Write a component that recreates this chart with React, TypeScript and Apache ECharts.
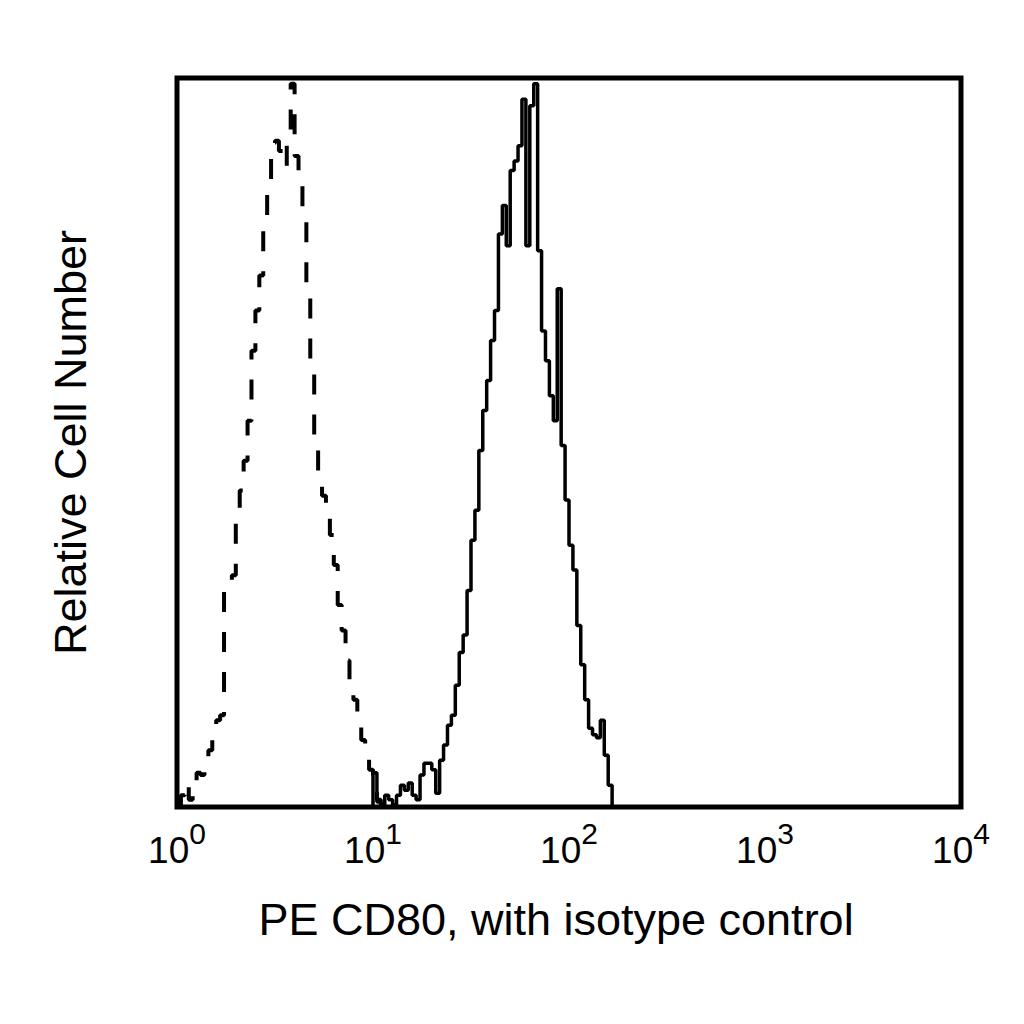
import React, { useEffect, useRef } from "react";
import * as echarts from "echarts";

// histogram channels: 50 bins per decade, 4 decades (10^0 .. 10^4)
const CHANNELS_PER_DECADE = 50;
const tickExponents = [0, 1, 2, 3, 4];

// isotype control (dashed), starts at channel 0
const isotypeStart = 0;
const isotypeCounts = [
  0.3, 1.6, 3.3, 1.0, 2.3, 4.7, 4.4, 5.8, 7.8, 9.2,
  11.9, 12.6, 29.7, 30.4, 31.8, 39.3, 43.4, 47.5, 53.0, 62.6,
  68.1, 72.9, 80.4, 85.9, 91.1, 91.4, 90.0, 87.9, 91.4, 99.2,
  89.3, 86.6, 80.4, 70.8, 61.2, 48.9, 44.8, 42.7, 40.0, 37.3,
  33.2, 27.7, 24.2, 20.1, 17.4, 14.7, 12.2, 9.2, 7.1, 5.1,
  4.4, 1.0,
];

// PE CD80 (solid), starts at channel 50 (10^1)
const cd80Start = 50;
const cd80Counts = [
  4.7, 0.7, 0.3, 1.6, 1.0, 0.3, 1.6, 3.0, 2.3, 3.3,
  1.6, 1.0, 4.4, 6.0, 6.0, 5.1, 1.9, 6.4, 8.5, 11.2,
  12.6, 16.7, 21.2, 23.6, 29.7, 36.6, 40.7, 48.9, 54.4, 58.5,
  64.0, 68.1, 78.6, 82.5, 77.0, 87.3, 88.6, 90.7, 97.1, 77.0,
  96.2, 99.2, 76.3, 65.3, 61.2, 56.4, 53.0, 71.1, 49.6, 42.1,
  35.9, 32.5, 24.9, 19.5, 14.7, 10.8, 9.9, 9.5, 11.9, 7.1,
  3.0,
];

const FONT = "'Liberation Sans', Arial, Helvetica, sans-serif";

const toSteps = (start: number, counts: number[]) => {
  const edge = (ch: number) => Math.pow(10, ch / CHANNELS_PER_DECADE);
  const pts: [number, number][] = [[edge(start), 0]];
  counts.forEach((c, k) => pts.push([edge(start + k), c]));
  pts.push([edge(start + counts.length), 0]);
  return pts;
};

const App: React.FC = () => {
  const chartRef = useRef<HTMLDivElement>(null);

  useEffect(() => {
    if (!chartRef.current) return;
    const chart = echarts.init(chartRef.current, undefined, { renderer: "svg" });

    const option = {
      animation: false,
      backgroundColor: "#fff",
      grid: {
        left: 177,
        top: 78,
        right: 63,
        bottom: 217,
        show: true,
        borderColor: "#000",
        borderWidth: 5,
        backgroundColor: "transparent",
      },
      xAxis: {
        type: "log",
        logBase: 10,
        min: 1,
        max: 10000,
        axisLine: { show: false },
        axisTick: { show: false },
        splitLine: { show: false },
        minorTick: { show: false },
        axisLabel: {
          margin: 11,
          showMinLabel: true,
          showMaxLabel: true,
          formatter: (v: number) => {
            const e = Math.round(Math.log10(v));
            return tickExponents.includes(e) ? `{b|10}{s|${e}}` : "";
          },
          rich: {
            b: { fontSize: 37, fontFamily: FONT, color: "#000" },
            s: { fontSize: 30, fontFamily: FONT, color: "#000", padding: [0, 0, 34, 0] },
          },
        },
        name: "PE CD80, with isotype control",
        nameLocation: "middle",
        nameGap: 90,
        nameTextStyle: {
          fontSize: 45,
          fontFamily: FONT,
          color: "#000",
          padding: [0, 26, 0, 0],
        },
      },
      yAxis: {
        type: "value",
        min: 0,
        max: 100,
        axisLine: { show: false },
        axisTick: { show: false },
        axisLabel: { show: false },
        splitLine: { show: false },
        name: "Relative Cell Number",
        nameLocation: "middle",
        nameGap: 84,
        nameTextStyle: {
          fontSize: 45,
          fontFamily: FONT,
          color: "#000",
        },
      },
      series: [
        {
          name: "Isotype control",
          type: "line",
          step: "end",
          showSymbol: false,
          symbol: "none",
          data: toSteps(isotypeStart, isotypeCounts),
          lineStyle: { color: "#000", width: 4, type: [20, 20] },
        },
        {
          name: "PE CD80",
          type: "line",
          step: "end",
          showSymbol: false,
          symbol: "none",
          data: toSteps(cd80Start, cd80Counts),
          lineStyle: { color: "#000", width: 3.5, type: "solid" },
        },
      ],
    };

    chart.setOption(option as any);

    const handleResize = () => chart.resize();
    window.addEventListener("resize", handleResize);
    return () => {
      window.removeEventListener("resize", handleResize);
      chart.dispose();
    };
  }, []);

  return (
    <div
      ref={chartRef}
      style={{ position: "absolute", left: 0, top: 0, width: "1024px", height: "1024px" }}
    />
  );
};

export default App;
